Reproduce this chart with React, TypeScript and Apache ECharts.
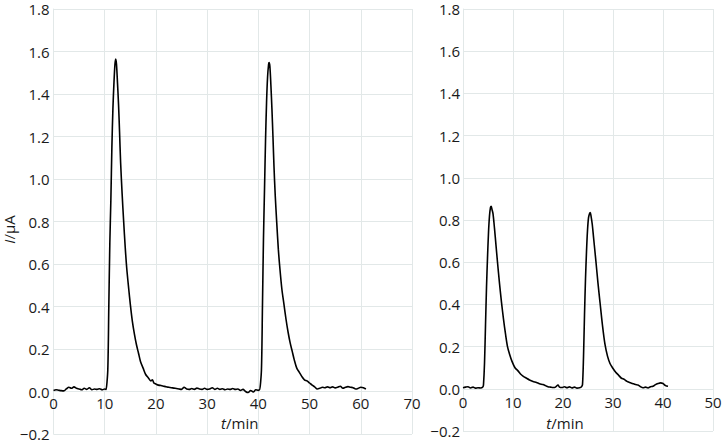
import React, { useEffect, useRef } from "react";
import * as echarts from "echarts";

// Left panel: time (min) and current (µA)
const tLeft = [
  0, 0.5, 1, 1.5, 2, 2.5, 3, 3.5, 4, 4.5, 5, 5.5, 6, 6.5, 7, 7.5, 8, 8.5, 9, 9.5, 10, 10.3,
  10.4, 10.6, 10.8, 11.0, 11.2, 11.4, 11.6, 11.8, 12.0, 12.15, 12.3, 12.5, 12.7, 12.9, 13.1, 13.4, 13.7,
  14.0, 14.3, 14.7, 15.0, 15.4, 15.8, 16.2, 16.6, 17.0, 17.5, 18.0, 18.5, 19.0, 19.3, 19.6, 20, 20.5,
  21, 21.5, 22, 22.5, 23, 23.5, 24, 24.5, 25, 25.5, 26, 26.5, 27, 27.5, 28, 28.5, 29, 29.5, 30, 30.5,
  31, 31.5, 32, 32.5, 33, 33.5, 34, 34.5, 35, 35.5, 36, 36.5, 37, 37.5, 38, 38.5, 39, 39.5, 40, 40.3,
  40.4, 40.6, 40.8, 41.0, 41.2, 41.4, 41.6, 41.8, 42.0, 42.1, 42.25, 42.45, 42.65, 42.85, 43.05, 43.3,
  43.6, 43.9, 44.2, 44.6, 45.0, 45.4, 45.8, 46.2, 46.6, 47.0, 47.5, 48.0, 48.5, 49.0, 49.5, 50, 50.5,
  51, 51.5, 52, 52.5, 53, 53.5, 54, 54.5, 55, 55.5, 56, 56.5, 57, 57.5, 58, 58.5, 59, 59.5, 60, 60.5, 61,
];
const iLeft = [
  0.005, 0.008, 0.006, 0.004, 0.003, 0.012, 0.02, 0.015, 0.022, 0.015, 0.012, 0.008, 0.015, 0.01, 0.018, 0.008, 0.012, 0.01, 0.013, 0.008, 0.012, 0.01,
  0.012, 0.1, 0.4, 0.7, 0.9, 1.15, 1.33, 1.45, 1.54, 1.565, 1.54, 1.45, 1.35, 1.22, 1.08, 0.93, 0.8,
  0.68, 0.58, 0.48, 0.41, 0.33, 0.27, 0.22, 0.18, 0.14, 0.11, 0.08, 0.065, 0.05, 0.055, 0.04, 0.035, 0.03,
  0.028, 0.025, 0.022, 0.02, 0.018, 0.016, 0.014, 0.012, 0.01, 0.02, 0.012, 0.01, 0.014, 0.01, 0.016, 0.012, 0.01, 0.015, 0.01, 0.012,
  0.018, 0.01, 0.015, 0.01, 0.013, 0.008, 0.012, 0.01, 0.014, 0.01, 0.012, 0.005, 0.01, 0.0, -0.005, 0.005, -0.002, 0.008, 0.005, 0.01,
  0.01, 0.1, 0.4, 0.72, 0.95, 1.18, 1.36, 1.48, 1.54, 1.548, 1.53, 1.44, 1.33, 1.2, 1.06, 0.92,
  0.79, 0.67, 0.58, 0.48, 0.41, 0.34, 0.28, 0.23, 0.19, 0.15, 0.11, 0.09, 0.07, 0.055, 0.05, 0.04, 0.03,
  0.022, 0.012, 0.015, 0.02, 0.018, 0.022, 0.018, 0.022, 0.017, 0.02, 0.025, 0.015, 0.02, 0.023, 0.02, 0.018, 0.012, 0.015, 0.02, 0.018, 0.012,
];

// Right panel
const tRight = [
  0, 0.5, 1, 1.5, 2, 2.5, 3, 3.5, 4,
  4.1, 4.3, 4.5, 4.7, 4.9, 5.1, 5.3, 5.5, 5.65, 5.8, 6.0, 6.3, 6.6, 6.9, 7.3, 7.7, 8.1, 8.5, 8.9, 9.3,
  9.8, 10.4, 11, 11.5, 12, 12.7, 13.3, 14, 14.7, 15.3, 16, 16.5, 17, 17.5, 18, 18.5, 19, 19.3, 19.8,
  20.3, 20.8, 21.3, 21.8, 22.3, 22.8, 23.3, 23.7,
  23.9, 24.1, 24.3, 24.5, 24.7, 24.9, 25.1, 25.3, 25.45, 25.6, 25.85, 26.1, 26.35, 26.6, 27.0, 27.4,
  27.9, 28.4, 28.9, 29.4, 29.9, 30.5, 31.1, 31.7, 32.2, 32.8, 33.3, 33.9, 34.5, 35, 35.5, 36, 36.5,
  37, 37.5, 38, 38.5, 39, 39.5, 40, 40.5, 41,
];
const iRight = [
  0.005, 0.008, 0.01, 0.004, 0.008, 0.003, 0.005, 0.004, 0.01,
  0.02, 0.12, 0.3, 0.48, 0.62, 0.74, 0.82, 0.86, 0.865, 0.85, 0.83, 0.76, 0.68, 0.6, 0.5, 0.41, 0.33, 0.26, 0.2, 0.165,
  0.13, 0.1, 0.085, 0.07, 0.06, 0.05, 0.042, 0.035, 0.03, 0.024, 0.02, 0.015, 0.01, 0.008, 0.006, 0.008, 0.018, 0.008, 0.006,
  0.01, 0.005, 0.009, 0.004, 0.008, 0.003, 0.005, 0.01,
  0.02, 0.15, 0.35, 0.52, 0.65, 0.75, 0.81, 0.83, 0.835, 0.82, 0.78, 0.72, 0.66, 0.6, 0.5, 0.41,
  0.3, 0.21, 0.155, 0.12, 0.1, 0.08, 0.065, 0.05, 0.045, 0.035, 0.03, 0.025, 0.02, 0.018, 0.01, 0.005, 0.008,
  0.004, 0.01, 0.012, 0.02, 0.025, 0.028, 0.025, 0.015, 0.012,
];

const xMaxLeft = 70;
const xMaxRight = 50;
const yMin = -0.2;
const yMax = 1.8;
const yStep = 0.2;
const xStep = 10;

const FONT = "Open Sans";
const GRID_COLOR = "#e2e8e8";
const TEXT_COLOR = "#1a1a1a";

const LEFT_GRID = { left: 53.5, top: 9, width: 358.5, height: 425 };
const RIGHT_GRID = { left: 463, top: 9, width: 250, height: 422 };

const fmtY = (v: number) => {
  const r = Math.round(v * 10) / 10;
  return (r < 0 ? "\u2212" : "") + Math.abs(r).toFixed(1);
};

// distance (px) from the grid bottom (y = yMin) up to y = 0
const zeroOffset = (h: number) => (h * (0 - yMin)) / (yMax - yMin);

export default function App() {
  const ref = useRef<HTMLDivElement>(null);
  useEffect(() => {
    if (!ref.current) return;
    const chart = echarts.init(ref.current, undefined, { renderer: "svg" });
    const label = { fontFamily: FONT, fontSize: 15, lineHeight: 13, color: TEXT_COLOR };
    const rich = {
      i: { fontStyle: "italic" as const, fontFamily: FONT, fontSize: 15, color: TEXT_COLOR },
      n: { fontFamily: FONT, fontSize: 15, color: TEXT_COLOR },
    };
    const xAxisBase = (
      max: number,
      gap: number,
      padding: number[],
      margin: number,
      offset: number,
      gridIndex: number
    ) => ({
      type: "value" as const,
      gridIndex,
      min: 0,
      max,
      interval: xStep,
      position: "bottom" as const,
      offset,
      name: "{i|t}{n|/min}",
      nameLocation: "middle" as const,
      nameGap: gap,
      nameMoveOverlap: false,
      nameTextStyle: { rich, padding },
      axisLine: { show: true, onZero: false, lineStyle: { color: GRID_COLOR, width: 1 } },
      axisTick: { show: false },
      axisLabel: { ...label, margin },
      splitLine: { show: true, lineStyle: { color: GRID_COLOR, width: 1 } },
    });
    const yAxisBase = (gridIndex: number, margin: number) => ({
      type: "value" as const,
      gridIndex,
      min: yMin,
      max: yMax,
      interval: yStep,
      axisLine: { show: true, onZero: false, lineStyle: { color: GRID_COLOR, width: 1 } },
      axisTick: { show: false },
      axisLabel: { ...label, margin, formatter: fmtY },
      splitLine: { show: true, lineStyle: { color: GRID_COLOR, width: 1 } },
    });
    chart.setOption({
      animation: false,
      backgroundColor: "#ffffff",
      grid: [
        { ...LEFT_GRID, containLabel: false, outerBoundsMode: "none" },
        { ...RIGHT_GRID, containLabel: false, outerBoundsMode: "none" },
      ],
      xAxis: [
        xAxisBase(xMaxLeft, 24, [0, 0, 0, 14], 5, -zeroOffset(LEFT_GRID.height), 0),
        xAxisBase(xMaxRight, 27, [0, 46, 0, 0], 7, -zeroOffset(RIGHT_GRID.height), 1),
      ],
      yAxis: [
        {
          ...yAxisBase(0, 4),
          name: "{i|I}{n|/\u03bcA}",
          nameLocation: "middle",
          nameGap: 37,
          nameRotate: 90,
          nameMoveOverlap: false,
          nameTextStyle: { rich, padding: [0, 16, 0, 0] },
        },
        yAxisBase(1, 3),
      ],
      series: [
        {
          type: "line",
          xAxisIndex: 0,
          yAxisIndex: 0,
          data: tLeft.map((t, k) => [t, iLeft[k]]),
          showSymbol: false,
          symbol: "none",
          smooth: 0.3,
          lineStyle: { color: "#000000", width: 1.6 },
        },
        {
          type: "line",
          xAxisIndex: 1,
          yAxisIndex: 1,
          data: tRight.map((t, k) => [t, iRight[k]]),
          showSymbol: false,
          symbol: "none",
          smooth: 0.3,
          lineStyle: { color: "#000000", width: 1.6 },
        },
      ],
    });
    return () => chart.dispose();
  }, []);
  return (
    <div
      ref={ref}
      style={{ position: "fixed", left: 0, top: 0, width: 725, height: 443, background: "#fff" }}
    />
  );
}
